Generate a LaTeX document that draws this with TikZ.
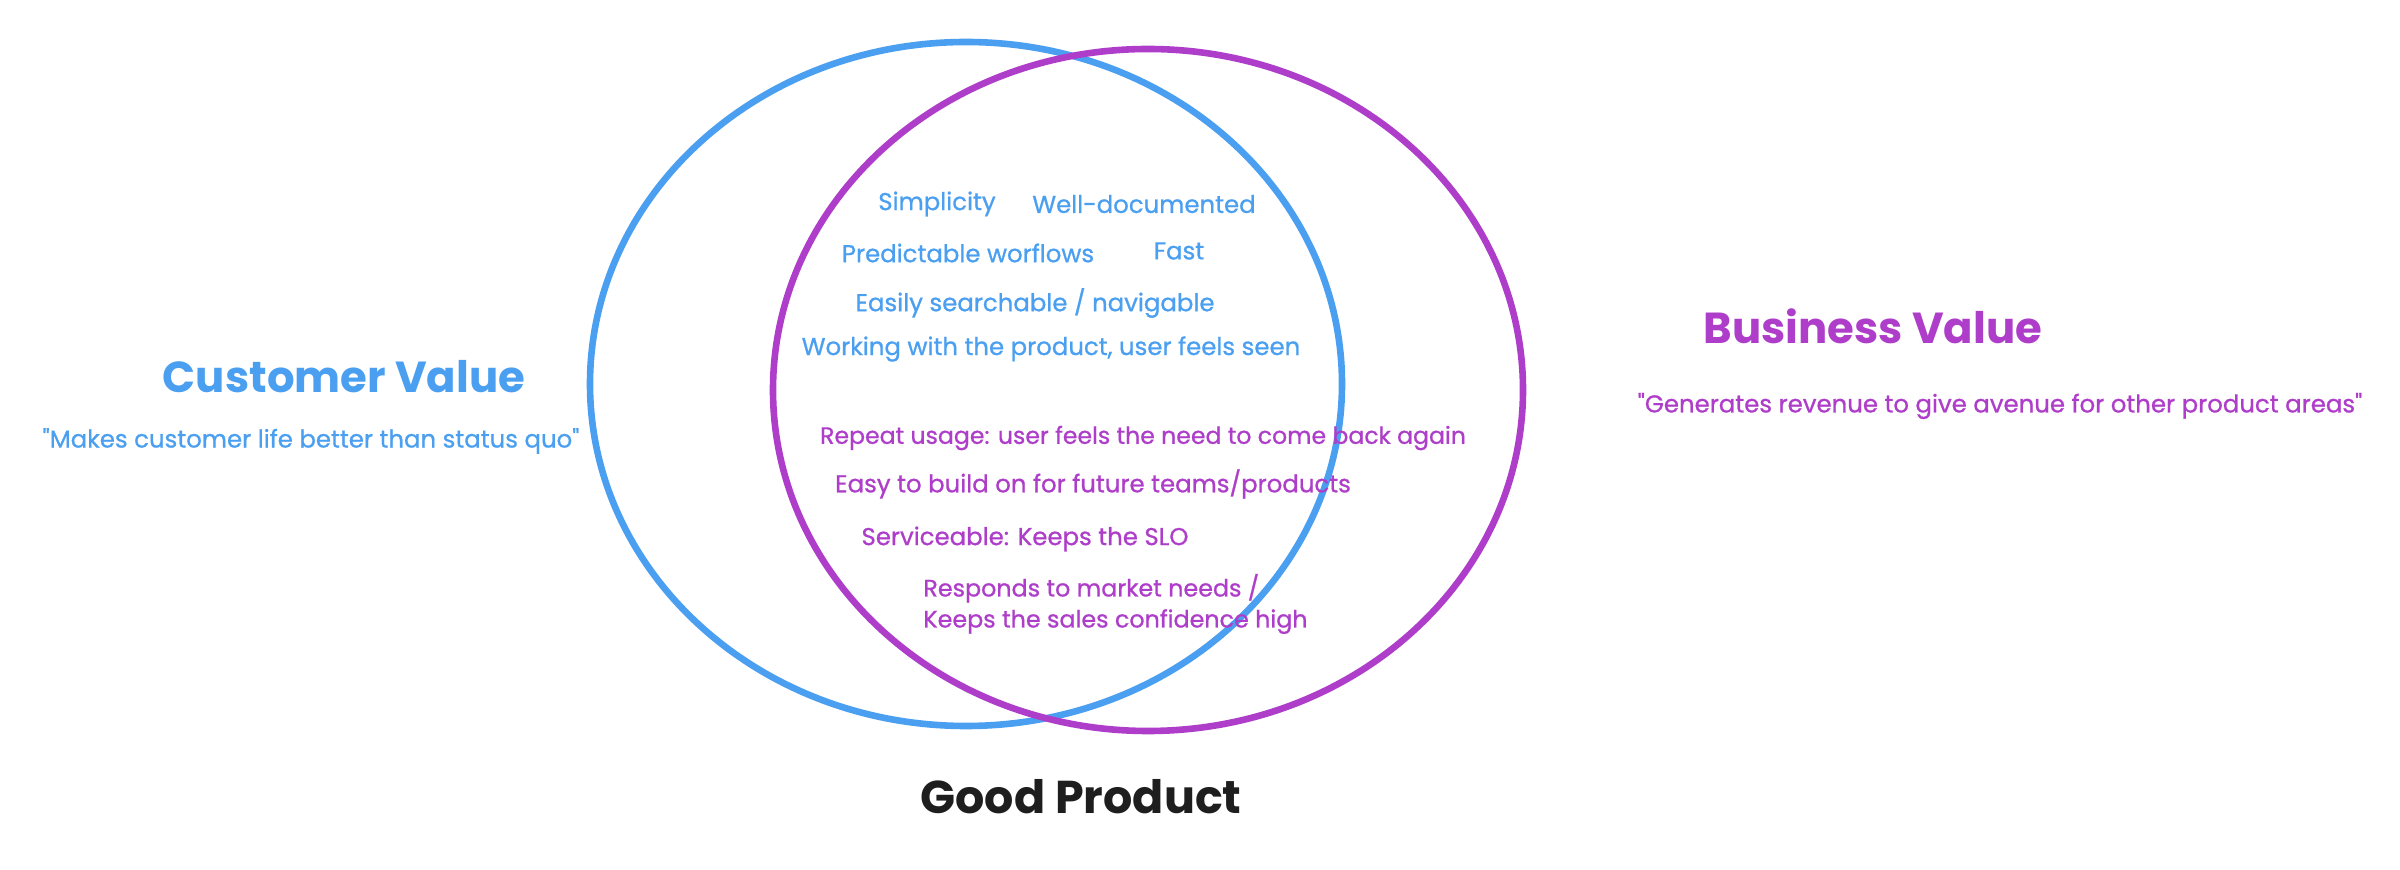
\documentclass[tikz,border=0pt]{standalone}
\usepackage{fontspec}
\setmainfont{Poppins}
\newfontfamily\itemfont{Poppins}[FakeBold=0.8]
\definecolor{cvblue}{HTML}{4A9FF0}
\definecolor{bvpurple}{HTML}{AE3EC9}
\definecolor{gpdark}{HTML}{1E1E1E}
\begin{document}
\begin{tikzpicture}[x=0.5pt,y=-0.5pt,
  ring/.style={line width=3.3pt},
  item/.style={inner sep=0pt, font=\itemfont\fontsize{12.2}{15}\selectfont},
  blueitem/.style={item, text=cvblue},
  purpleitem/.style={item, text=bvpurple},
  title/.style={inner sep=0pt, font=\fontsize{21.7}{26}\selectfont\bfseries}]
\useasboundingbox (0,0) rectangle (2400,870);
\fill[white] (0,0) rectangle (2400,870);
\draw[ring, cvblue] (966,384) ellipse [x radius=376, y radius=342];
\draw[ring, bvpurple] (1148,390) ellipse [x radius=375, y radius=341];

\node[title, text=cvblue] (cv) at (344,377) {Customer Value};
\node[blueitem] (cvq) at (311,441) {"Makes customer life better than status quo"};
\node[title, text=bvpurple] (bv) at (1873,326) {Business Value};
\node[purpleitem] (bvq) at (2000,406) {"Generates revenue to give avenue for other product areas"};

\node[blueitem] (simp) at (937,204) {Simplicity};
\node[blueitem] (doc) at (1144,204) {Well-documented};
\node[blueitem] (pred) at (968,253) {Predictable worflows};
\node[blueitem] (fast) at (1179,251) {Fast};
\node[blueitem] (srch) at (1035,303) {Easily searchable / navigable};
\node[blueitem] (seen) at (1051,349) {Working with the product, user feels seen};

\node[purpleitem, font=\itemfont\fontsize{11.8}{15}\selectfont] (rep) at (1143,438) {Repeat usage: user feels the need to come back again};
\node[purpleitem] (easy) at (1093,484) {Easy to build on for future teams/products};
\node[purpleitem] (serv) at (1025,539) {Serviceable: Keeps the SLO};
\node[purpleitem, align=left, anchor=west, font=\itemfont\fontsize{11.9}{15.5}\selectfont] (resp) at (923,604) {Responds to market needs /\\Keeps the sales confidence high};

\node[title, text=gpdark, font=\fontsize{23}{27}\selectfont\bfseries] (gp) at (1081,797) {Good Product};
\end{tikzpicture}
\end{document}
